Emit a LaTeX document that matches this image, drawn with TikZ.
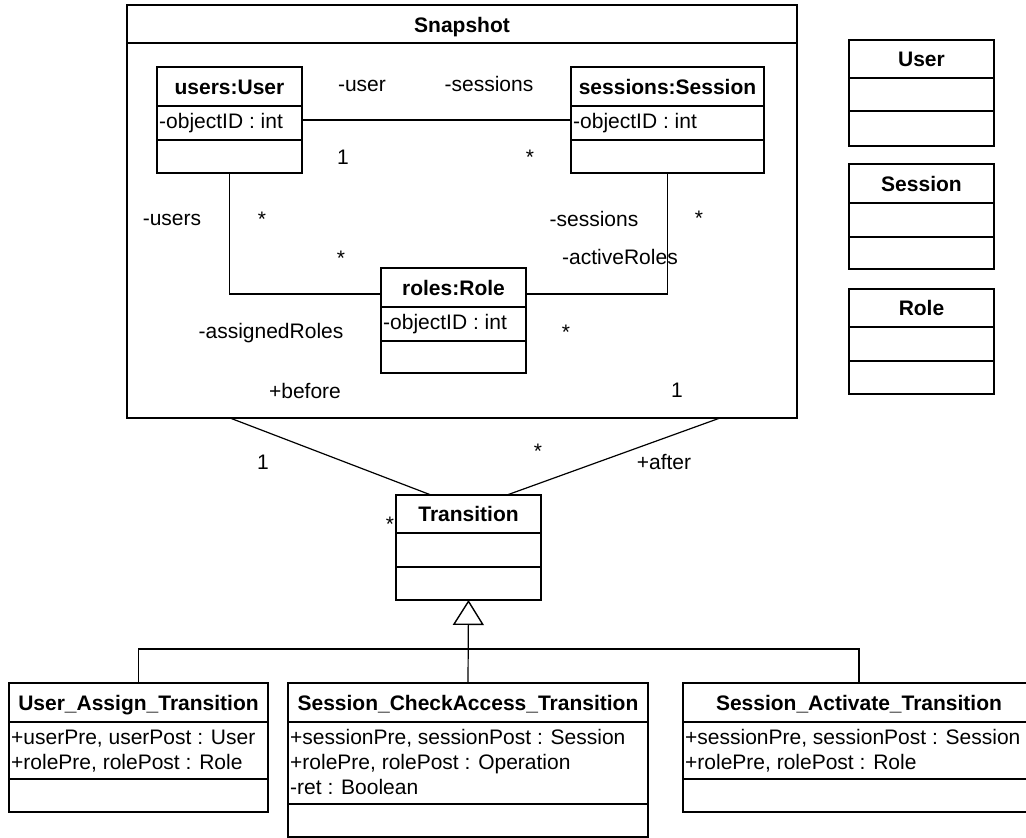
\documentclass[tikz,border=0pt]{standalone}
\usepackage{fontspec}
\setmainfont{Liberation Sans}
\usetikzlibrary{arrows.meta}

% UML class box: name, left, top, width, title height, second divider, total height, title
\newcommand\classbox[8]{%
  \node[box, minimum width=#4pt, minimum height=#7pt, anchor=north west] (#1) at (#2,#3) {};
  \draw[box] ([yshift=-#5pt]#1.north west) -- ([yshift=-#5pt]#1.north east);
  \draw[box] ([yshift=-#6pt]#1.north west) -- ([yshift=-#6pt]#1.north east);
  \node[ttl] (#1-title) at ([yshift={-(#5/2+7.5)*1pt}]#1.north) {#8};
}
% attribute line: name, class, title height, line index (0-based), text
\newcommand\attrline[5]{%
  \node[attr] (#1) at ([xshift=2pt, yshift={-(#3+22+25*#4)*1pt}]#2.north west) {#5};
}

\begin{document}
\begin{tikzpicture}[x=1pt, y=-1pt,
  box/.style={draw, line width=1.8pt, inner sep=0pt, outer sep=0pt},
  wire/.style={draw, line width=1.2pt},
  lbl/.style={inner sep=0pt, font=\fontsize{21}{25}\selectfont, anchor=base},
  ttl/.style={lbl, font=\fontsize{21}{25}\selectfont\bfseries},
  attr/.style={lbl, anchor=base west}]
\useasboundingbox (0,0) rectangle (1026,838);

% package-like frame
\node[box, minimum width=670pt, minimum height=413pt, anchor=north west] (snap) at (127,5) {};
\draw[box] ([yshift=-38pt]snap.north west) -- ([yshift=-38pt]snap.north east);
\node[ttl] (snap-title) at (462,32) {Snapshot};

% objects inside the snapshot
\classbox{users}{157}{67}{145}{39}{73}{106}{users:User}
\attrline{users-a}{users}{39}{0}{-objectID : int}
\classbox{sessions}{571}{67}{193}{39}{73}{106}{sessions:Session}
\attrline{sessions-a}{sessions}{39}{0}{-objectID : int}
\classbox{roles}{381}{268}{145}{39}{73}{105}{roles:Role}
\attrline{roles-a}{roles}{39}{0}{-objectID : int}

% plain classes
\classbox{cuser}{849}{40}{145}{38}{71}{106}{User}
\classbox{csession}{849}{164}{145}{39}{73}{105}{Session}
\classbox{crole}{849}{289}{145}{38}{72}{105}{Role}

% transitions
\classbox{trans}{396}{495}{145}{38}{72}{105}{Transition}
\classbox{ua}{9}{683}{259}{39}{96}{129}{User\_Assign\_Transition}
\attrline{ua-a}{ua}{39}{0}{+userPre, userPost : User}
\attrline{ua-b}{ua}{39}{1}{+rolePre, rolePost : Role}
\classbox{ca}{288}{683}{360}{39}{121}{154}{Session\_CheckAccess\_Transition}
\attrline{ca-a}{ca}{39}{0}{+sessionPre, sessionPost : Session}
\attrline{ca-b}{ca}{39}{1}{+rolePre, rolePost : Operation}
\attrline{ca-c}{ca}{39}{2}{-ret : Boolean}
\classbox{sa}{683}{683}{352}{39}{96}{129}{Session\_Activate\_Transition}
\attrline{sa-a}{sa}{39}{0}{+sessionPre, sessionPost : Session}
\attrline{sa-b}{sa}{39}{1}{+rolePre, rolePost : Role}

% associations inside the snapshot
\draw[wire] (users.east) -- (users.east -| sessions.west);
\draw[wire] (users.south) |- ([yshift=-26pt]roles.north west);
\draw[wire] (sessions.south) |- ([yshift=-26pt]roles.north east);

% before / after associations
\draw[wire] ([xshift=103pt]snap.south west) -- ([xshift=35pt]trans.north west);
\draw[wire] ([xshift=-77pt]snap.south east) -- ([xshift=111pt]trans.north west);

% generalization tree
\coordinate (bus) at ([yshift=-49pt]trans.south);
\draw[wire] (ua.north) |- (bus);
\draw[wire] (sa.north) |- (bus);
\draw[wire, -{Triangle[open, length=25pt, width=31pt, line width=1.4pt]}] (ca.north) -- (trans.south);

% role names and multiplicities
\node[lbl] (r1) at (362,91) {-user};
\node[lbl] (r2) at (489,91) {-sessions};
\node[lbl] (m1) at (343,164) {1};
\node[lbl] (m2) at (530,164) {*};
\node[lbl] (r3) at (172,225) {-users};
\node[lbl] (m3) at (262,226) {*};
\node[lbl] (m4) at (341,265) {*};
\node[lbl] (r4) at (594,226) {-sessions};
\node[lbl] (m5) at (699,225) {*};
\node[lbl] (r5) at (620,264) {-activeRoles};
\node[lbl] (r6) at (271,338) {-assignedRoles};
\node[lbl] (m6) at (566,339) {*};
\node[lbl] (r7) at (305,398) {+before};
\node[lbl] (m7) at (677,397) {1};
\node[lbl] (m8) at (263,469) {1};
\node[lbl] (m9) at (538,458) {*};
\node[lbl] (r8) at (664,469) {+after};
\node[lbl] (m10) at (390,531) {*};
\end{tikzpicture}
\end{document}
